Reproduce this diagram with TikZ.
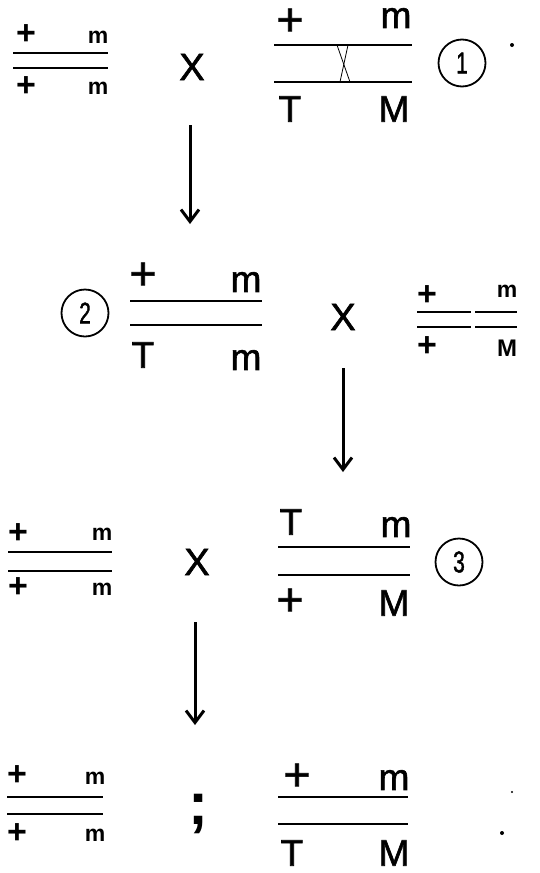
\documentclass[tikz,border=0pt]{standalone}
\usepackage{fontspec}
\setmainfont{Liberation Sans}
\newfontfamily\medfont{Liberation Sans}[FakeBold=1.6]
\usetikzlibrary{arrows.meta}

\tikzset{
  bigtxt/.style={inner sep=0pt, font=\medfont\fontsize{37}{37}\selectfont},
  bigplus/.style={inner sep=0pt, font=\medfont\fontsize{46}{46}\selectfont},
  smalltxt/.style={inner sep=0pt, font=\bfseries\fontsize{23}{23}\selectfont},
  smallbig/.style={inner sep=0pt, font=\bfseries\fontsize{24}{24}\selectfont},
  smallplus/.style={inner sep=0pt, font=\bfseries\fontsize{34}{34}\selectfont},
  crosssign/.style={inner sep=0pt, font=\medfont\fontsize{38}{38}\selectfont},
  tag/.style={draw, circle, line width=1.8pt, minimum size=47pt, inner sep=0pt, font=\medfont\fontsize{30}{30}\selectfont},
  chromo/.style={line width=1.8pt},
  gen/.style={-{Straight Barb[length=12pt,width=18pt]}, line width=3pt}
}

\begin{document}
\begin{tikzpicture}[x=1pt, y=-1pt]
  \useasboundingbox[fill=white] (0,0) rectangle (539,873);

  % Row 1: parents
  \node[smallplus] (p1a) at (26,35) {+};
  \node[smalltxt]  (p1b) at (98,37) {m};
  \draw[chromo] (13,52.7) -- (108,52.7);
  \draw[chromo] (13,68.3) -- (108,68.3);
  \node[smallplus] (p1c) at (26,87) {+};
  \node[smalltxt]  (p1d) at (98,88) {m};

  \node[crosssign] (x1) at (192,67) {X};

  \node[bigplus] (q1a) at (290,22) {+};
  \node[bigtxt]  (q1b) at (396,18) {m};
  \draw[chromo] (274,45) -- (412,45);
  \draw[chromo] (274,82) -- (412,82);
  \draw[line width=0.8pt] (337,45) -- (350,82);
  \draw[line width=0.8pt] (348,45) -- (340,82);
  \node[bigtxt]  (q1c) at (290,109) {T};
  \node[bigtxt]  (q1d) at (394,109) {M};
  \node[tag] (t1) at (462,63) {\scalebox{0.7}[1]{1}};
  \fill (512,45) circle (2);

  \coordinate (a1s) at (190,125);
  \coordinate (a1e) at (190,224);
  \draw[gen] (a1s) -- (a1e);

  % Row 2
  \node[tag] (t2) at (85,313) {\scalebox{0.7}[1]{2}};
  \node[bigplus] (p2a) at (143,276) {+};
  \node[bigtxt]  (p2b) at (246,282) {m};
  \draw[chromo] (130,301) -- (262,301);
  \draw[chromo] (130,325) -- (262,325);
  \node[bigtxt]  (p2c) at (143,355) {T};
  \node[bigtxt]  (p2d) at (246,360) {m};

  \node[crosssign] (x2) at (343,317) {X};

  \node[smallplus] (q2a) at (427,296) {+};
  \node[smalltxt]  (q2b) at (507,291) {m};
  \draw[chromo] (417,312.3) -- (471,312.3);
  \draw[chromo] (475,312.3) -- (517,312.3);
  \draw[chromo] (417,326.7) -- (471,326.7);
  \draw[chromo] (475,326.7) -- (517,326.7);
  \node[smallplus] (q2c) at (427,347) {+};
  \node[smallbig]  (q2d) at (507,348) {M};

  \coordinate (a2s) at (343,368);
  \coordinate (a2e) at (343,472);
  \draw[gen] (a2s) -- (a2e);

  % Row 3
  \node[smallplus] (p3a) at (18,534) {+};
  \node[smalltxt]  (p3b) at (102,534) {m};
  \draw[chromo] (8,551.7) -- (112,551.7);
  \draw[chromo] (8,570.7) -- (112,570.7);
  \node[smallplus] (p3c) at (18,588) {+};
  \node[smalltxt]  (p3d) at (102,589) {m};

  \node[crosssign] (x3) at (197,562) {X};

  \node[bigtxt]  (q3a) at (291,522) {T};
  \node[bigtxt]  (q3b) at (396,527) {m};
  \draw[chromo] (278,547.3) -- (410,547.3);
  \draw[chromo] (278,575) -- (410,575);
  \node[bigplus] (q3c) at (290,602) {+};
  \node[bigtxt]  (q3d) at (394,603) {M};
  \node[tag] (t3) at (459,562) {\scalebox{0.7}[1]{3}};

  \coordinate (a3s) at (195,622);
  \coordinate (a3e) at (195,725);
  \draw[gen] (a3s) -- (a3e);

  % Row 4: offspring
  \node[smallplus] (p4a) at (17,776) {+};
  \node[smalltxt]  (p4b) at (95,778) {m};
  \draw[chromo] (7,796.7) -- (103,796.7);
  \draw[chromo] (7,814) -- (103,814);
  \node[smallplus] (p4c) at (17,834) {+};
  \node[smalltxt]  (p4d) at (95,835) {m};

  \node[inner sep=0pt, font=\bfseries\fontsize{60}{60}\selectfont] (semi) at (198,814) {;};

  \node[bigplus] (q4a) at (297,777) {+};
  \node[bigtxt]  (q4b) at (394,780) {m};
  \draw[chromo] (278,797.3) -- (408,797.3);
  \draw[chromo] (278,824) -- (408,824);
  \node[bigtxt]  (q4c) at (292,853) {T};
  \node[bigtxt]  (q4d) at (394,853) {M};
  \fill (512,792) circle (1.2);
  \fill (502,833) circle (2);
\end{tikzpicture}
\end{document}
